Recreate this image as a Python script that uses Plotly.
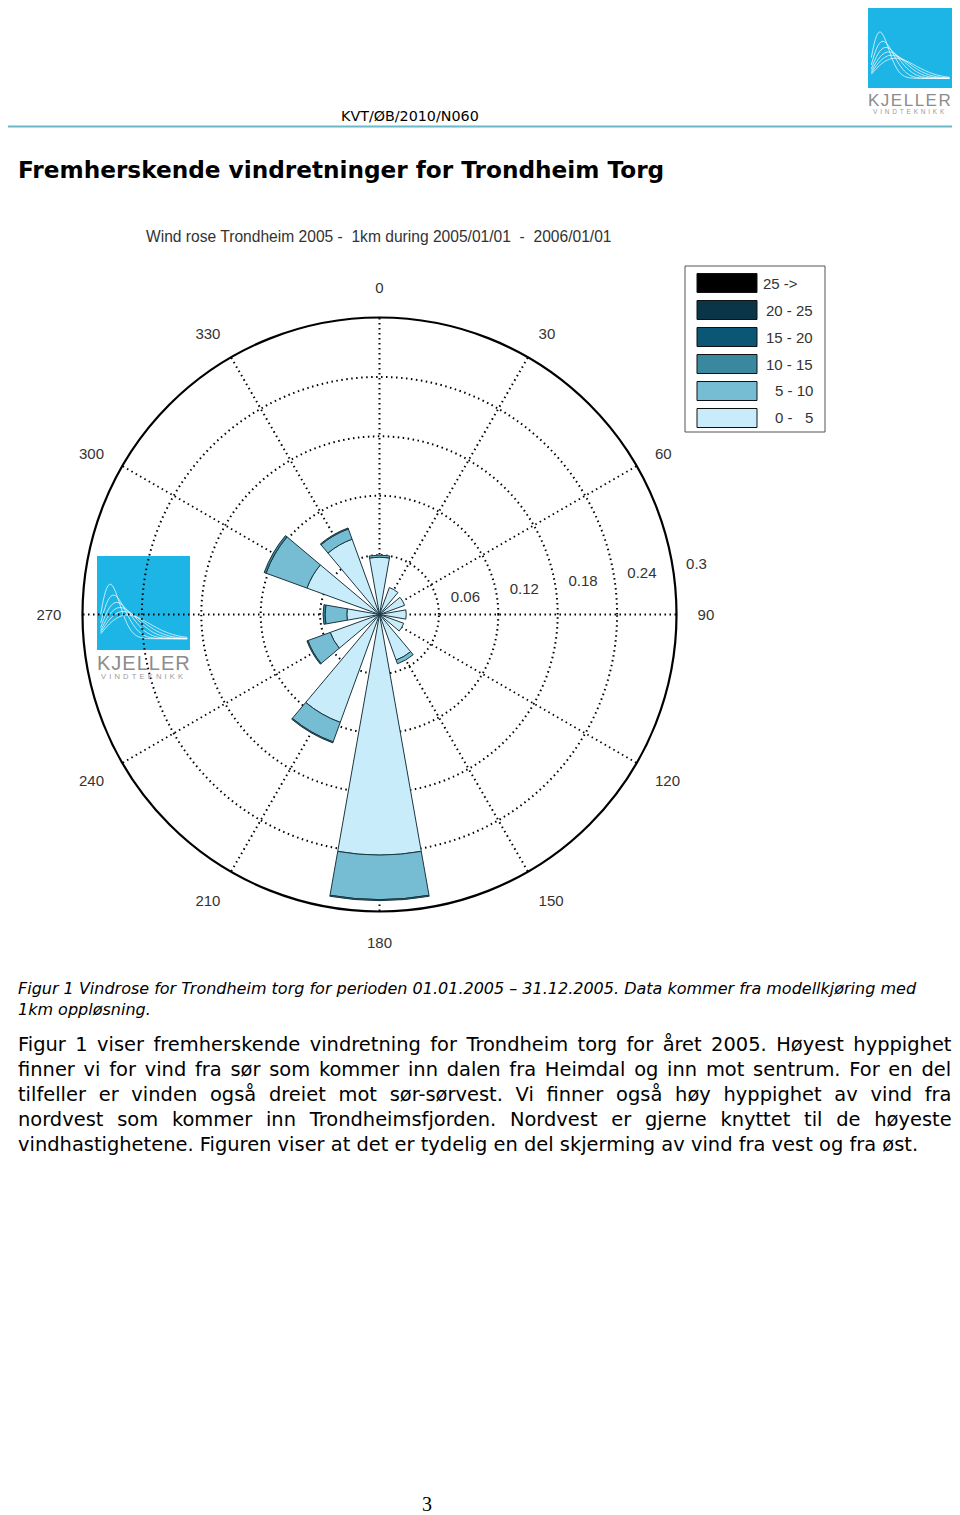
import numpy as np
import plotly.graph_objects as go

# The page body has an 8px margin, so the figure is offset by 8px.
OFF = 8
FW, FH = 952, 1507

# ---------------- data ----------------
directions = [0, 30, 60, 90, 120, 150, 180, 210, 240, 270, 300, 330]
direction_labels = ["0", "30", "60", "90", "120", "150", "180", "210", "240", "270", "300", "330"]
speed_classes = ["0 -   5", "5 - 10", "10 - 15", "15 - 20", "20 - 25", "25 ->"]
freq_0_5 = [0.058, 0.029, 0.027, 0.027, 0.026, 0.049, 0.243, 0.116, 0.053, 0.033, 0.078, 0.081]
freq_5_10 = [0.002, 0.0, 0.0, 0.0, 0.0, 0.004, 0.045, 0.021, 0.024, 0.022, 0.044, 0.011]
freq_10_15 = [0.0, 0.0, 0.0, 0.0, 0.0, 0.0, 0.001, 0.001, 0.001, 0.002, 0.002, 0.001]
freq_15_20 = [0.0] * 12
freq_20_25 = [0.0] * 12
freq_25_up = [0.0] * 12
class_colors = ["#C8ECF9", "#76BCD3", "#3A87A0", "#0B5674", "#0A3549", "#000000"]
radial_ticks = [0.06, 0.12, 0.18, 0.24, 0.3]
radial_tick_labels = ["0.06", "0.12", "0.18", "0.24", "0.3"]

series = [freq_0_5, freq_5_10, freq_10_15, freq_15_20, freq_20_25, freq_25_up]


def px(x):
    return (x - OFF) / FW


def py(y):
    return 1 - (y - OFF) / FH


fig = go.Figure()

for name, vals, col in zip(speed_classes, series, class_colors):
    if sum(vals) == 0:
        continue
    fig.add_trace(go.Barpolar(
        r=vals, theta=directions, width=20, name=name,
        marker=dict(color=col, line=dict(color="#1b3640", width=1)),
        showlegend=False, hoverinfo="skip"))

# radial tick labels (MATLAB style, beside the rings)
fig.add_trace(go.Scatterpolar(
    r=radial_ticks, theta=[82] * len(radial_ticks), mode="text",
    text=["\u00a0\u00a0\u00a0" + t for t in radial_tick_labels], textposition="top right",
    textfont=dict(family="Liberation Sans", size=15, color="#333"),
    cliponaxis=False, showlegend=False, hoverinfo="skip"))

shapes = []
annotations = []

# chart domain (circle centre 379.5, 614.5, radius 297 in page pixels)
cx, cy, R = 379.5, 614.5, 297

fig.update_layout(
    width=FW, height=FH, margin=dict(l=0, r=0, t=0, b=0),
    paper_bgcolor="white", plot_bgcolor="white",
    polar=dict(
        domain=dict(x=[px(cx - R), px(cx + R)], y=[py(cy + R), py(cy - R)]),
        bgcolor="rgba(0,0,0,0)", barmode="stack",
        angularaxis=dict(direction="clockwise", rotation=90, layer="above traces",
                         tickmode="array", tickvals=directions, ticktext=direction_labels,
                         showline=True, linecolor="black", linewidth=2.2,
                         showgrid=True, gridcolor="black", gridwidth=1.5, griddash="1.5px,3.5px",
                         ticks="outside", ticklen=17, tickcolor="rgba(0,0,0,0)",
                         tickfont=dict(family="Liberation Sans", size=15, color="#333")),
        radialaxis=dict(range=[0, 0.3], tickmode="array", tickvals=radial_ticks,
                        layer="above traces",
                        showticklabels=False, showline=False, ticks="",
                        showgrid=True, gridcolor="black", gridwidth=1.5, griddash="1.5px,3.5px"),
    ),
)

# ---------------- logos ----------------
def add_logo(x0, y0, w, h, text_y, text_size, sub_y, sub_size, ls1, ls2):
    shapes.append(dict(type="rect", xref="paper", yref="paper", layer="below",
                       x0=px(x0), x1=px(x0 + w), y0=py(y0 + h), y1=py(y0),
                       fillcolor="#1DB5E5", line=dict(width=0)))
    k = 2.0
    lams = [0.20, 0.25, 0.30, 0.35, 0.40, 0.46]
    u = np.linspace(0.04, 0.97, 60)
    fmax = (k / lams[0]) * (np.sqrt(0.5)) * np.exp(-0.5)
    for lam in lams:
        f = (k / lam) * (u / lam) ** (k - 1) * np.exp(-(u / lam) ** k)
        t = 0.88 - 0.58 * f / fmax
        pts = [(px(x0 + uu * w), py(y0 + tt * h)) for uu, tt in zip(u, t)]
        path = "M " + " L ".join(f"{a:.5f},{b:.5f}" for a, b in pts)
        shapes.append(dict(type="path", xref="paper", yref="paper", layer="below",
                           path=path, line=dict(color="rgba(255,255,255,0.9)", width=0.8)))
    annotations.append(dict(x=px(x0 + w / 2), y=py(text_y), xref="paper", yref="paper",
                            text=f'<span style="letter-spacing:{ls1}px">KJELLER</span>',
                            showarrow=False, xanchor="center", yanchor="middle",
                            font=dict(family="Liberation Sans", size=text_size, color="#8C8C8C")))
    annotations.append(dict(x=px(x0 + w / 2), y=py(sub_y), xref="paper", yref="paper",
                            text=f'<span style="letter-spacing:{ls2}px">VINDTEKNIKK</span>',
                            showarrow=False, xanchor="center", yanchor="middle",
                            font=dict(family="Liberation Sans", size=sub_size, color="#9A9A9A")))


add_logo(868, 8, 84, 80, 100, 17, 111, 6.5, 1.5, 2.8)
add_logo(97, 556, 93, 94, 663, 20, 676, 7.5, 1.0, 3.2)

# header line
shapes.append(dict(type="line", xref="paper", yref="paper", x0=px(8), x1=px(958),
                   y0=py(126.5), y1=py(126.5), line=dict(color="#6BB8C8", width=2)))

# legend box
shapes.append(dict(type="rect", xref="paper", yref="paper",
                   x0=px(685), x1=px(825), y0=py(432), y1=py(266),
                   fillcolor="white", line=dict(color="#555", width=1)))
legend_rows_y = [283, 310, 337, 364, 391, 418]
for i, (name, col) in enumerate(zip(speed_classes[::-1], class_colors[::-1])):
    yc = legend_rows_y[i]
    shapes.append(dict(type="rect", xref="paper", yref="paper",
                       x0=px(697), x1=px(757), y0=py(yc + 9.5), y1=py(yc - 9.5),
                       fillcolor=col, line=dict(color="#111", width=1)))
    if name.startswith("25"):
        annotations.append(dict(x=px(761), y=py(yc), xref="paper", yref="paper", text=name,
                                showarrow=False, xanchor="left", yanchor="middle",
                                font=dict(family="Liberation Sans", size=15, color="#333")))
    else:
        annotations.append(dict(x=px(815), y=py(yc), xref="paper", yref="paper",
                                text=name.replace(" ", "\u00a0"),
                                showarrow=False, xanchor="right", yanchor="middle",
                                font=dict(family="Liberation Sans", size=15, color="#333")))

# chart title
annotations.append(dict(x=px(379), y=py(236), xref="paper", yref="paper",
                        text="Wind rose Trondheim 2005 -\u00a0\u00a01km during 2005/01/01\u00a0\u00a0-\u00a0\u00a02006/01/01",
                        showarrow=False, xanchor="center", yanchor="middle",
                        font=dict(family="Liberation Sans", size=15.6, color="#333")))

# document texts
annotations.append(dict(x=px(410), y=py(116), xref="paper", yref="paper", text="KVT/ØB/2010/N060",
                        showarrow=False, xanchor="center", yanchor="middle",
                        font=dict(family="DejaVu Sans", size=14.3, color="black")))
annotations.append(dict(x=px(16), y=py(169), xref="paper", yref="paper",
                        text="<b>Fremherskende vindretninger for Trondheim Torg</b>",
                        showarrow=False, xanchor="left", yanchor="middle",
                        font=dict(family="DejaVu Sans", size=23.2, color="black")))

caption_lines = [
    "Figur 1 Vindrose for Trondheim torg for perioden 01.01.2005 \u2013 31.12.2005. Data kommer fra modellkjøring med",
    "1km oppløsning.",
]
for i, line in enumerate(caption_lines):
    annotations.append(dict(x=px(16), y=py(988 + 21 * i), xref="paper", yref="paper",
                            text="<i>" + line + "</i>", showarrow=False,
                            xanchor="left", yanchor="middle",
                            font=dict(family="DejaVu Sans", size=16.0, color="black")))

body_lines = [
    "Figur 1 viser fremherskende vindretning for Trondheim torg for året 2005. Høyest hyppighet",
    "finner vi for vind fra sør som kommer inn dalen fra Heimdal og inn mot sentrum. For en del",
    "tilfeller er vinden også dreiet mot sør-sørvest. Vi finner også høy hyppighet av vind fra",
    "nordvest som kommer inn Trondheimsfjorden. Nordvest er gjerne knyttet til de høyeste",
    "vindhastighetene. Figuren viser at det er tydelig en del skjerming av vind fra vest og fra øst.",
]
# extra word spacing (px) to justify lines 1-4 to the right margin
body_word_spacing = [3.25, 2.56, 6.54, 7.58, 0]
for i, (line, ws) in enumerate(zip(body_lines, body_word_spacing)):
    txt = f'<span style="word-spacing:{ws}px">{line}</span>' if ws else line
    annotations.append(dict(x=px(16), y=py(1044 + 25 * i), xref="paper", yref="paper",
                            text=txt, showarrow=False, xanchor="left", yanchor="middle",
                            font=dict(family="DejaVu Sans", size=19.45, color="black")))

annotations.append(dict(x=px(427), y=py(1504), xref="paper", yref="paper", text="3",
                        showarrow=False, xanchor="center", yanchor="middle",
                        font=dict(family="Liberation Serif", size=20, color="black")))

fig.update_layout(shapes=shapes, annotations=annotations)
fig.write_html("out.html")
